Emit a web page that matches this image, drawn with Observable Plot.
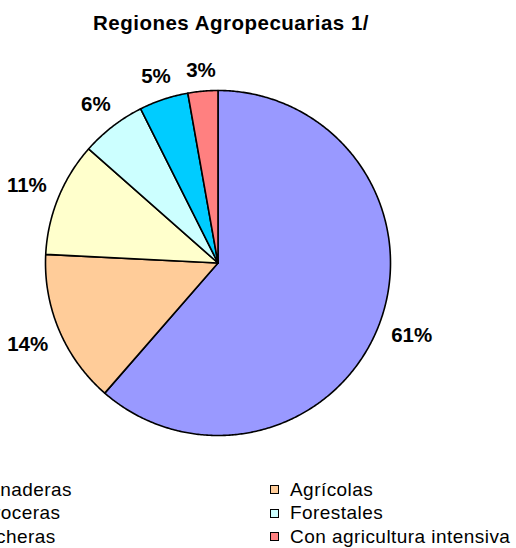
<!DOCTYPE html>
<html>
<head>
<meta charset="utf-8">
<script src="https://cdn.jsdelivr.net/npm/d3@7"></script>
<script src="https://cdn.jsdelivr.net/npm/@observablehq/plot@0.6"></script>
<style>
  html, body { margin: 0; padding: 0; background: #fff; }
  #wrap { position: relative; width: 516px; height: 548px; overflow: hidden; font-family: "Liberation Sans", Arial, sans-serif; }
  #title { position: absolute; left: 0; width: 462px; top: 13px; text-align: center; font-weight: bold; font-size: 20.5px; line-height: 20.5px; letter-spacing: 0.5px; color: #000; white-space: nowrap; }
  #chart { position: absolute; left: 0; top: 45px; }
  .lg-text { position: absolute; font-size: 19px; line-height: 19px; letter-spacing: 0.45px; color: #000; white-space: nowrap; }
  .lg-box { position: absolute; width: 7px; height: 7px; border: 1px solid #000; }
</style>
</head>
<body>
<div id="wrap">
  <div id="title"></div>
  <div id="chart"></div>
  <div id="legend"></div>
</div>
<script>
// ---- data ----
const title = "Regiones Agropecuarias 1/";
const names = ["Ganaderas", "Agrícolas", "Arroceras", "Forestales", "Lecheras", "Con agricultura intensiva"];
const values = [61.4, 14.4, 10.7, 6.1, 4.6, 2.8];
const labels = ["61%", "14%", "11%", "6%", "5%", "3%"];
const colors = ["#9999FF", "#FFCC99", "#FFFFCC", "#CCFFFF", "#00CCFF", "#FF8080"];

// ---- layout ----
const W = 516, H = 430;
const R = 172.5;          // radius in px
const cx = 217.5, cy = 217.5; // center within svg
const labelFont = 20.5;

document.getElementById("title").textContent = title;

const total = d3.sum(values);
let cum = 0;
const slices = names.map((n, i) => {
  const a0 = cum / total * 2 * Math.PI;
  cum += values[i];
  const a1 = cum / total * 2 * Math.PI;
  return {name: n, a0, a1, label: labels[i]};
});

const points = [];
for (const s of slices) {
  points.push({name: s.name, x: 0, y: 0});
  const steps = Math.max(2, Math.ceil((s.a1 - s.a0) / (Math.PI / 360)));
  for (let k = 0; k <= steps; k++) {
    const a = s.a0 + (s.a1 - s.a0) * k / steps;
    points.push({name: s.name, x: Math.sin(a), y: Math.cos(a)});
  }
}

const ctx = document.createElement("canvas").getContext("2d");
ctx.font = `bold ${labelFont}px "Liberation Sans", Arial, sans-serif`;
const labelData = slices.map(s => {
  const m = (s.a0 + s.a1) / 2;
  const hw = ctx.measureText(s.label).width / 2;
  const off = 12.5 + Math.abs(Math.sin(m)) * hw + Math.abs(Math.cos(m)) * 7.5;
  const rr = 1 + off / R;
  return {label: s.label, x: Math.sin(m) * rr, y: Math.cos(m) * rr};
});

const chart = Plot.plot({
  width: W,
  height: H,
  margin: 0,
  x: {domain: [-cx / R, (W - cx) / R], axis: null},
  y: {domain: [-(H - cy) / R, cy / R], axis: null},
  color: {domain: names, range: colors},
  style: {fontFamily: '"Liberation Sans", Arial, sans-serif', background: "transparent", overflow: "visible"},
  marks: [
    Plot.line(points, {x: "x", y: "y", z: "name", fill: "name", stroke: "#000", strokeWidth: 1.6, strokeLinejoin: "round", curve: "linear-closed"}),
    Plot.text(labelData, {x: "x", y: "y", text: "label", fontSize: labelFont, fontWeight: "bold", fill: "#000", lineAnchor: "middle", textAnchor: "middle"})
  ]
});
document.getElementById("chart").appendChild(chart);

// ---- legend (two columns, row-major; left column runs off the left edge) ----
const legend = document.getElementById("legend");
const colX = [-26, 290];
const boxOffset = -20;
const rowBase = [496, 519.5, 543];
names.forEach((n, i) => {
  const col = i % 2, row = Math.floor(i / 2);
  const box = document.createElement("div");
  box.className = "lg-box";
  box.style.left = (colX[col] + boxOffset) + "px";
  box.style.top = (rowBase[row] - 11) + "px";
  box.style.background = colors[i];
  legend.appendChild(box);
  const t = document.createElement("div");
  t.className = "lg-text";
  t.style.left = colX[col] + "px";
  t.style.top = (rowBase[row] - 16.1) + "px";
  t.textContent = n;
  legend.appendChild(t);
});
</script>
</body>
</html>
